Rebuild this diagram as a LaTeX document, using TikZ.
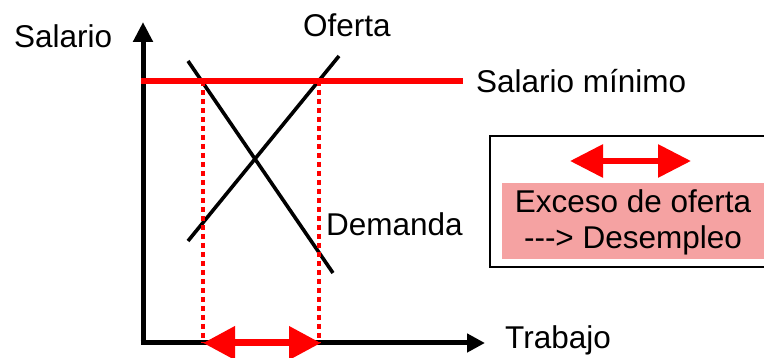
\documentclass[tikz,border=0pt]{standalone}
\usepackage{fontspec}
\setmainfont{Liberation Sans}
\usetikzlibrary{arrows.meta}
\definecolor{salpink}{RGB}{245,162,162}
\begin{document}
\begin{tikzpicture}[x=1pt,y=1pt,
  lbl/.style={inner sep=0pt,font=\fontsize{31.5}{36}\selectfont},
  axis/.style={line width=5pt,-{Triangle[length=20pt,width=19pt]}},
  curve/.style={line width=3.6pt},
  redbig/.style={red,line width=7pt,{Triangle[length=32pt,width=32pt]}-{Triangle[length=32pt,width=32pt]}},
  guide/.style={red,line width=3.6pt,dash pattern=on 5pt off 4pt}]
\useasboundingbox (0,0) rectangle (764,358);
% axes
\coordinate (O) at (143,15);
\coordinate (ytop) at (143,336);
\coordinate (xend) at (485,15);
\draw[axis] (O) -- (ytop);
\draw[line width=5pt,-{Triangle[length=18pt,width=18pt]}] (140.5,15) -- (xend);
% minimum wage line
\coordinate (mw0) at (141,277);
\coordinate (mw1) at (463,277);
% curves
\coordinate (d0) at (188,297);
\coordinate (d1) at (333,85);
\coordinate (s0) at (188,117);
\coordinate (s1) at (339,302);
\draw[curve] (d0) -- (d1);
\draw[curve] (s0) -- (s1);
% guides
\coordinate (gA) at (203,277);
\coordinate (gAb) at (203,15);
\coordinate (gB) at (319,277);
\coordinate (gBb) at (319,15);
\draw[guide] (gA) -- (gAb);
\draw[guide] (gB) -- (gBb);
\draw[red,line width=6.5pt] (mw0) -- (mw1);
% bottom arrow
\coordinate (ba0) at (203,15);
\coordinate (ba1) at (321,15);
\draw[redbig] (ba0) -- (ba1);
% legend box
\draw[line width=2.5pt] (490,91) rectangle (770,222);
\fill[salpink] (502,99) rectangle (768,175);
\coordinate (la0) at (570,197);
\coordinate (la1) at (691,197);
\draw[red,line width=6pt,{Triangle[length=33pt,width=32pt]}-{Triangle[length=33pt,width=32pt]}] (la0) -- (la1);
% labels
\node[lbl,anchor=base west] (salario) at (14,310) {Salario};
\node[lbl,anchor=base west] (oferta) at (303,321) {Oferta};
\node[lbl,anchor=base west] (minimo) at (476,265) {Salario mínimo};
\node[lbl,anchor=base west] (demanda) at (326,122) {Demanda};
\node[lbl,anchor=base west] (trabajo) at (505,9) {Trabajo};
\node[lbl,anchor=base] (exc1) at (633,145) {Exceso de oferta};
\node[lbl,anchor=base] (exc2) at (633,109) {{-}{-}{-}> Desempleo};
\end{tikzpicture}
\end{document}
